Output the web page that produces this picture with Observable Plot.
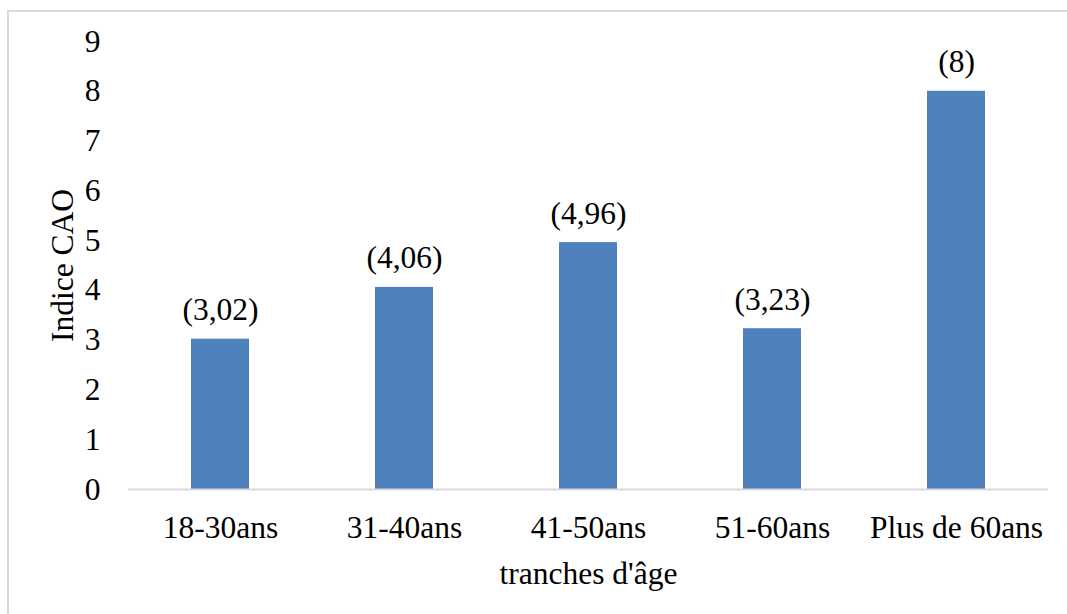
<!DOCTYPE html>
<html>
<head>
<meta charset="utf-8">
<script src="https://cdn.jsdelivr.net/npm/d3@7"></script>
<script src="https://cdn.jsdelivr.net/npm/@observablehq/plot@0.6"></script>
<style>
  html, body { margin: 0; padding: 0; background: #fff; overflow: hidden; }
  #frame { position: absolute; left: 7px; top: 10px; width: 1100px; height: 700px; border: 2px solid #d9d9d9; box-sizing: border-box; }
  #chart { position: absolute; left: 0; top: 0; }
</style>
</head>
<body>
<div id="frame"></div>
<div id="chart"></div>
<script>
const categories = ["18-30ans", "31-40ans", "41-50ans", "51-60ans", "Plus de 60ans"];
const values = [3.02, 4.06, 4.96, 3.23, 8];
const yTicks = [0, 1, 2, 3, 4, 5, 6, 7, 8, 9];
const xLabel = "tranches d'âge";
const yLabel = "Indice CAO";

const data = categories.map((c, i) => ({ cat: c, v: values[i], lab: `(${String(values[i]).replace(".", ",")})` }));

const font = "'Liberation Serif', 'Times New Roman', serif";

const chart = Plot.plot({
  width: 1067,
  height: 614,
  marginLeft: 128,
  marginRight: 19,
  marginTop: 41,
  marginBottom: 125,
  style: { fontFamily: font, fontSize: "31.5px", color: "#000", background: "transparent" },
  x: { domain: categories, paddingInner: 0.687, paddingOuter: 0.3435, align: 0.5 },
  y: { domain: [0, 9] },
  marks: [
    Plot.barY(data, { x: "cat", y: "v", fill: "#4f81bd" }),
    Plot.ruleY([0], { stroke: "#d9d9d9", strokeWidth: 2 }),
    Plot.text(data, { x: "cat", y: "v", text: "lab", dy: -29, fill: "#000", fontSize: 31.5 }),
    Plot.axisY({ ticks: yTicks, tickSize: 0, tickPadding: 28, label: yLabel, labelAnchor: "center", labelOffset: 78, labelArrow: "none", fontSize: 31.5 }),
    Plot.axisX({ tickSize: 0, tickPadding: 26, label: xLabel, labelAnchor: "center", labelOffset: 94, labelArrow: "none", fontSize: 31.5 })
  ]
});
document.getElementById("chart").appendChild(chart);
</script>
</body>
</html>
